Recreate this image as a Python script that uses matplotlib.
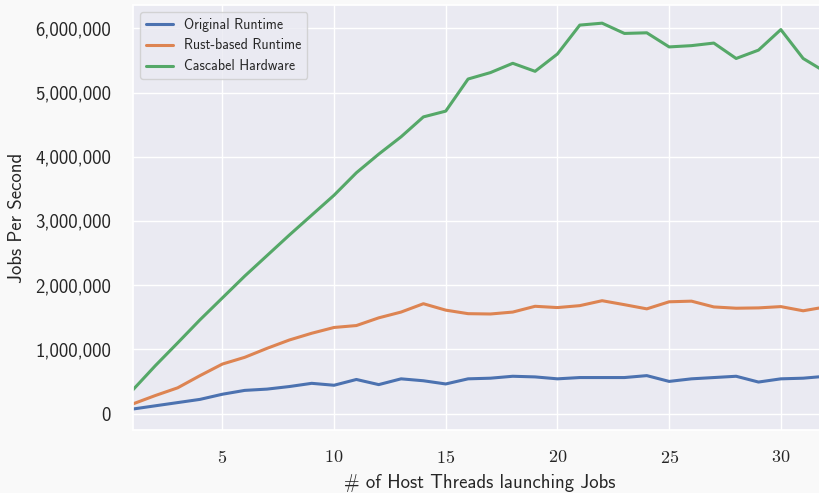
import matplotlib
matplotlib.use("Agg")
import matplotlib.pyplot as plt
import seaborn as sns
from matplotlib.ticker import FuncFormatter, FixedLocator, FixedFormatter

threads = list(range(1, 33))
original = [0.07, 0.12, 0.17, 0.22, 0.30, 0.36, 0.38, 0.42, 0.47, 0.44,
            0.53, 0.45, 0.54, 0.51, 0.46, 0.54, 0.55, 0.58, 0.57, 0.54,
            0.56, 0.56, 0.56, 0.59, 0.50, 0.54, 0.56, 0.58, 0.49, 0.54,
            0.55, 0.58]
rust = [0.15, 0.28, 0.40, 0.59, 0.77, 0.875, 1.015, 1.145, 1.25, 1.34,
        1.37, 1.49, 1.58, 1.71, 1.61, 1.555, 1.55, 1.58, 1.67, 1.65,
        1.68, 1.757, 1.695, 1.63, 1.74, 1.75, 1.66, 1.64, 1.645, 1.665,
        1.60, 1.66]
cascabel = [0.37, 0.745, 1.10, 1.46, 1.80, 2.14, 2.46, 2.78, 3.09, 3.40,
            3.75, 4.04, 4.31, 4.62, 4.71, 5.21, 5.31, 5.455, 5.33, 5.60,
            6.05, 6.08, 5.92, 5.93, 5.71, 5.73, 5.77, 5.53, 5.66, 5.98,
            5.53, 5.32]
series_names = ["Original Runtime", "Rust-based Runtime", "Cascabel Hardware"]
x_ticks = [5, 10, 15, 20, 25, 30]
y_ticks = [0, 1e6, 2e6, 3e6, 4e6, 5e6, 6e6]

sns.set_theme(style="darkgrid")
plt.rcParams['font.family'] = ['cmss10', 'DejaVu Sans']
plt.rcParams['mathtext.fontset'] = 'cm'
plt.rcParams['axes.formatter.use_mathtext'] = True
plt.rcParams['axes.unicode_minus'] = False

colors = sns.color_palette("deep")
fig = plt.figure(figsize=(8.19, 4.93), dpi=100)
fig.patch.set_facecolor('#f9f9f9')
ax = fig.add_axes([133/819, 1-430/493, (825.5-133)/819, 425/493])

for vals, name, c in zip([original, rust, cascabel], series_names, colors[:3]):
    ax.plot(threads, [v*1e6 for v in vals], color=c, lw=2.2, label=name)

ax.set_xlim(1, 32)
ax.set_ylim(-0.257e6, 6.363e6)
ax.xaxis.set_major_locator(FixedLocator(x_ticks))
ax.xaxis.set_major_formatter(FixedFormatter([f"${t}$" for t in x_ticks]))
ax.yaxis.set_major_locator(FixedLocator(y_ticks))
ax.yaxis.set_major_formatter(FuncFormatter(lambda v, p: f"{v:,.0f}"))
ax.tick_params(axis='y', labelsize=13.5, pad=9.8, colors='#262626')
ax.tick_params(axis='x', labelsize=13, pad=8, colors='#262626')
ax.set_xlabel("# of Host Threads launching Jobs", fontsize=13.5, color='#262626', labelpad=5.5)
ax.set_ylabel("Jobs Per Second", fontsize=13.5, color='#262626', labelpad=6.5)
ax.legend(loc='upper left', fontsize=10, bbox_to_anchor=(0.0, 1.0))

fig.savefig("out.png", dpi=100, facecolor=fig.get_facecolor())
